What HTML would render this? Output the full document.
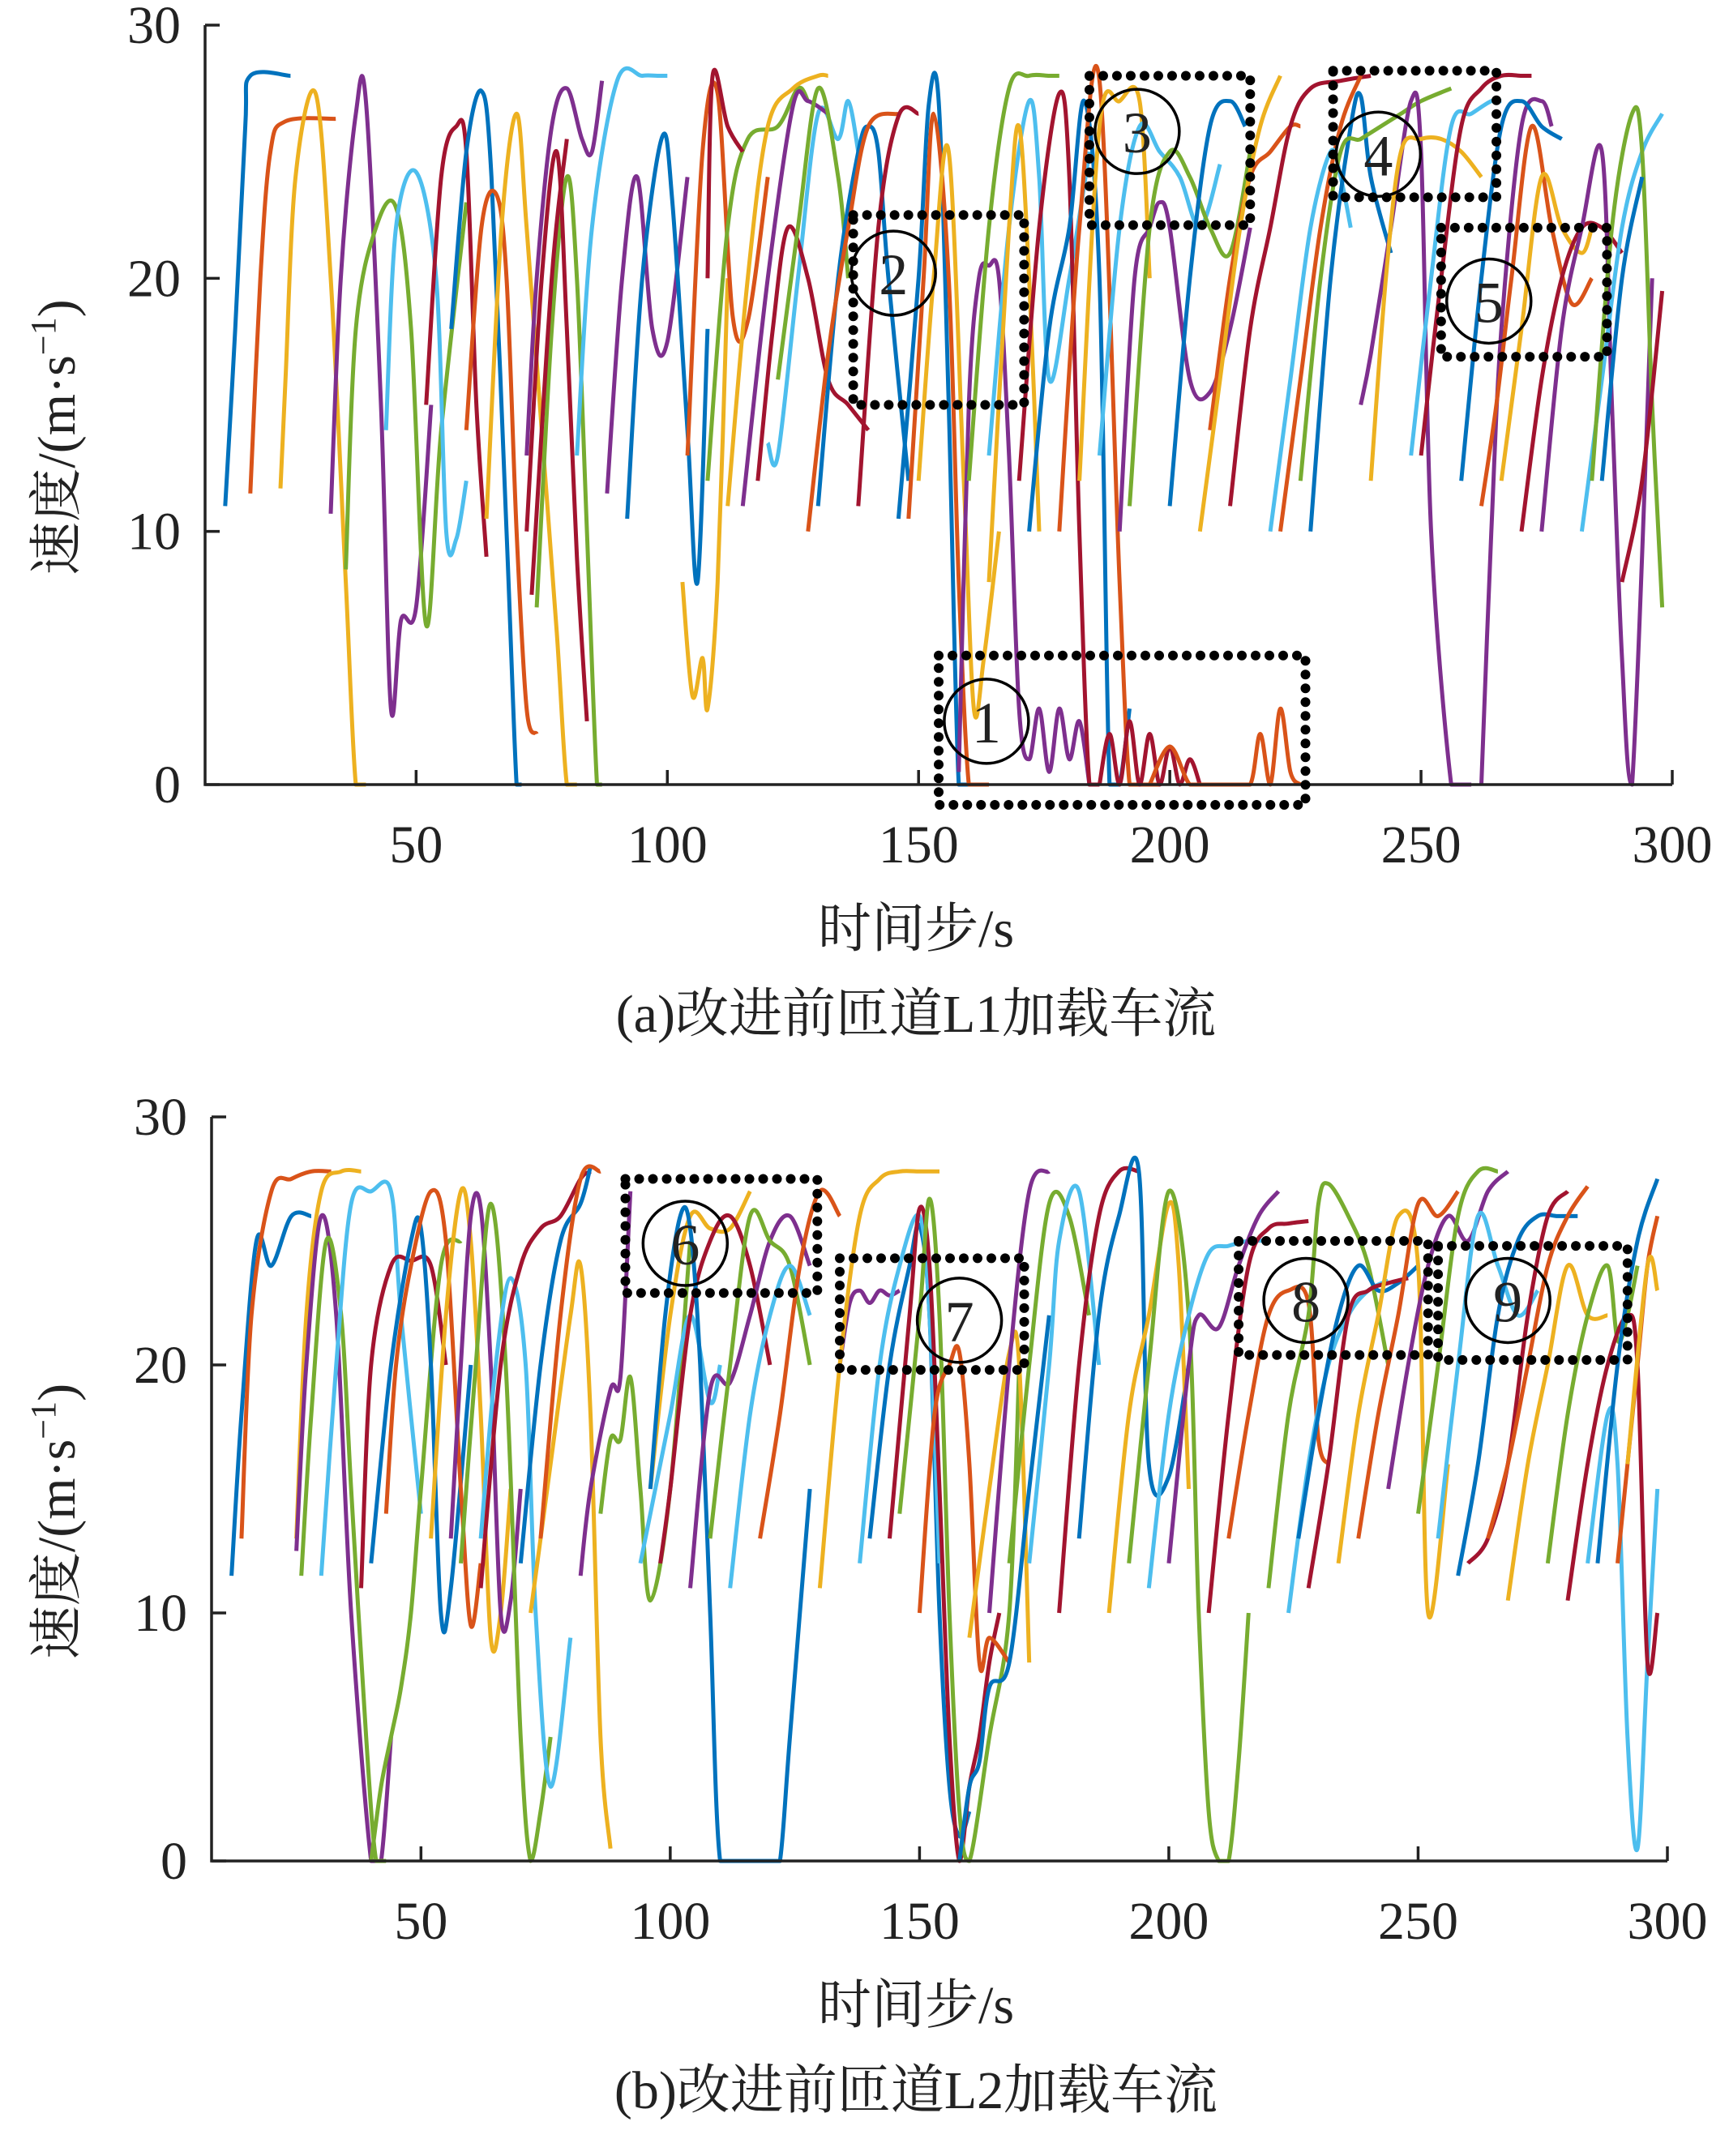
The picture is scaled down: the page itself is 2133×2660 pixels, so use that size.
<!DOCTYPE html>
<html><head><meta charset="utf-8"><style>
html,body{margin:0;padding:0;background:#fff}
svg{display:block}
text{font-family:"Liberation Serif","Noto Serif CJK SC",serif;fill:#222}
</style></head><body>
<svg id="chart" width="2133" height="2660" viewBox="0 0 2133 2660" xmlns="http://www.w3.org/2000/svg"></svg>
<script>
// ---- data ----
const xTicks = [50,100,150,200,250,300];
const yTicks = [0,10,20,30];
const colorMap = {b:'#0072BD',o:'#D95319',y:'#EDB120',p:'#7E2F8E',g:'#77AC30',c:'#4DBEEE',r:'#A2142F'};
const topColors = ['b','o','y','p','g','c','r','b','o','y','p','g','r','r','c','p','b','y','o','g','r','c','p','y','r','g','b','o','r','b','o','y','p','g','c','y','r','b','o','y','r','o','p','c','g','b','o','y','r','o','c','b','g','p','y','c','r','p','b','o','y','r','p','c','g','r','b'];
const topTimes = [
[12,14,16,17,25],[17,19,21,24,34],[23,24,26,30,33,36,38,40],[33,35,38,40,43,45,47,50,53],[36,38,42,46,49,52,55,60],[44,46,50,54,56,58,60],[52,55,58,60,62,64],[57,60,63,65,68,70,71],[60,63,66,68,70,72,74],[64,67,70,72,75,78,80,82],[72,74,77,80,83,85,87],[74,77,80,82,84,86,87],[72,75,78,80,82,84],[73,77,80],[82,85,90,95,98,100],[88,91,94,97,100,104],[92,95,99,101,104,106,108],[103,105,107,108,110,112],[104,107,110,113,116,120],[108,112,116,122,126,128],[108,109,112,115],[120,122,126,130,134,136,138],[115,120,125,128,132],[112,116,120,125,130,132],[118,121,124,128,132,136,140],[122,126,130,134,136],[130,134,138,140,142,144,148],[128,132,136,140,146],[138,142,146,150],[146,150,152,154,156,158,160,162],[148,151,153,156,158,160,162,164],[150,153,156,159,161,163,166],[158,160,162,164,166,168,170,172,174,176,178,180,182,184],[160,164,168,172,176,178],[164,168,172,174,176,180,184],[164,168,170,172,174],[170,174,178,180,182,184,186],[172,176,180,183,186,188,190,192],[178,182,186,190,192,194,196,198],[182,186,190,194,196],[186,188,190,192,194,196,198,200,202,204,206],[196,200,204,208,212,216,218,220,222,224,226],[190,193,196,198,200,204,208,212,216],[186,190,194,198,202,206,210],[192,196,200,204,208,212,216],[200,204,208,212,215],[208,212,216,220,224,226],[206,210,214,218,222],[212,216,220,224,228,234,240],[222,226,230,234,238],[220,224,228,232,234,236],[228,232,236,238,240,244],[226,230,234,238,242,246,250,256],[238,240,244,248,250,252,256,258,260],[240,243,246,250,254,258,262],[248,252,256,260,264,266],[250,254,258,262,266,270,272],[262,264,266,270,274,276],[258,262,266,270,274,278],[262,265,268,272,276,280,284],[266,270,274,278,282,284],[270,274,278,282,286,290],[274,278,282,286,288,290,292,296],[282,286,290,294,298],[284,288,292,294,296,298],[290,294,298],[286,290,294]
];
const topSpeeds = [
[11,18,26,28,28],[11.5,20,25,26.2,26.3],[11.7,16,24,27.3,20,8,0,0],[10.7,20,26.5,27,15,3,6.5,7,15],[8.5,18,22,22.8,18,6.3,14,23],[14,22,24.2,20,10,9.7,12],[15,24,26,25,15,9],[18,25,27.4,24,10,0,0],[14,22,23.3,20,10,3,2],[10.5,22,26.5,22,14,6,0,0],[13,20,26,27.5,25.5,25,27.8],[7,18,24,20,10,0,0],[10,20,25,18,9,2.5],[7.5,20,25.5],[13,22,27.8,28,28,28],[11.5,20,24,18,17.5,24],[10.5,20,25.6,23,14,8,18],[8,3.5,5,3,8,20],[13,25,27.3,18.5,18.3,24],[12,22,25.5,26,27.5,27],[20,28,26,25],[13.5,13,20,26.5,25.5,27,25],[11,20,26.8,27,26.5],[11,20,26,27.5,28,28],[12,18,22,20,16,15,14],[16,22,27.5,24,20],[11,20,25,26,25,20,12],[10,17,22,26,26.5],[11,22,26.4,26.5],[10.5,20,26.8,27,15,0,0,0],[10.5,20,26.5,20,8,0,0,0],[12,20,25,12,3,5,10],[0.5,15,20,20.5,20,13,3,1,3,0.5,3,1,2.5,0],[12,22,27.5,28,28,28],[13,22,27,24,16,20,25],[8,22,26,20,10],[12,22,27.3,24,10,0,0],[10,18,22,27,20,0,0,3],[10,22,27.8,8,0,0,0,0],[12,26,27,27,20],[0,2,0,2.5,0,2,0,1.5,0,1,0],[0,1.5,0,0,0,0,2,0,3,0.5,0],[10,20,22,23,22,16,15.5,18,22],[13,22,26,25,24,22,24.5],[11,22,25,24,22,21,25],[11,20,26,27,26],[14,20,24,25,26,26],[10,16,22,26,28],[11,18,22,26,27.5,27.8,28],[10,16,22,26,28],[10,16,22,25,24,22],[10,20,26,27.2,24,21],[12,20,25,25.5,26,26.5,27,27.5],[15,17,22,27,25,10,0,0,0],[12,20,25,25.5,25.5,25,24],[13,20,26,26.5,27,27],[13,20,26,27.5,28,28,28],[0,10,18,26,27,26],[12,20,26,27,26,25.5],[11,15,20,26,22,19,20],[12,18,24,22,21,22],[10,16,20,22,22,21],[10,18,22,25,15,5,0,20],[10,16,22,25,26.5],[12,22,26.5,25,15,7],[8,12,19.5],[12,20,24]
];
const botColors = ['b','o','y','p','g','c','r','g','b','o','y','p','g','c','r','b','y','o','p','g','c','y','r','b','p','g','c','o','p','y','b','c','r','g','o','y','b','p','g','c','r','b','y','g','c','p','r','o','g','c','b','r','y','o','p','g','c','b','r','o','y','g','c','r','b','o','y'];
const botTimes = [
[12,14,17,20,24,28],[14,16,20,24,28,32],[25,27,30,34,38],[25,27,30,33,36,40,42,44],[26,28,31,34,36,39,41,43],[30,33,36,40,44,46,50],[38,40,44,48,52,55],[40,42,44,46,48,50,54,58],[40,44,48,50,52,54,56,60],[43,45,48,52,55,58,60,62],[52,55,58,60,62,64,66,68],[56,58,60,62,64,66,68,70],[58,61,64,67,70,72,74,76],[62,65,68,71,73,76,80],[62,66,70,74,78,82,84],[70,74,78,82,84],[72,76,80,82,84,86,88],[74,78,82,86],[82,84,88,90,92],[86,88,90,92,94,96,100,104],[94,96,100,104,108,110],[96,100,104,108,112,116],[98,100,104,108,112,116,120],[96,99,102,104,106,108,110,114,118,120,122,124,128],[104,108,112,116,120,124,128],[108,112,116,120,124,128],[112,116,120,124,128],[118,122,126,130,134],[134,136,138,140,142,144,146],[130,134,138,142,146,150,154],[140,144,148,150,152,154,156,158,160],[138,142,146,150,152,154],[144,148,150,152,154,156,158,160,162,164,166],[146,150,152,154,156,158,160,164,168,170],[150,153,156,158,160,162,164,168],[160,164,168,170,172],[158,160,162,164,168,172,176],[164,168,172,176],[168,172,176,180,184],[172,176,178,182,186],[178,182,186,190,194],[182,186,190,194,196,200,204],[188,192,196,200,202,204],[192,196,200,204,206,208,210,212,214,216],[196,200,204,208,212,216,220],[200,204,206,210,214,218,222],[208,212,216,220,224,228],[212,216,220,224,228,230,232],[220,224,228,230,232,236,240,244],[224,228,232,236,240,244],[226,230,234,238,242,246,250],[228,232,236,240,244,248],[234,238,242,246,250,252,256],[238,242,246,250,254,258],[244,248,252,256,260,264,268],[250,254,258,262,266],[254,258,262,266,270,274],[258,262,266,270,274,278,282],[260,264,268,272,276,280],[264,268,272,276,280,284],[268,272,276,280,284,288],[276,280,284,288,290,292,294],[284,288,290,292,294,296,298],[280,284,288,292,294,296,298],[286,290,294,298],[290,294,296,298],[292,296,298]
];
const botSpeeds = [
[11.5,18,25,24,26,26],[13,22,27,27.5,27.8,27.8],[13,22,27,27.8,27.8],[12.5,20,26,22,10,0,0,5],[11.5,18,25,22,15,5,0,0],[11.5,20,26.5,27,27,22,14],[11,20,24,24.2,24,20],[0,3,5,7,10,15,24,25],[12,20,25,25.5,20,10,11,20],[14,20,24,27,25,15,9.5,12],[13,22,27,25,18,9,10,15],[13,20,26,26.3,20,10,10.5,15],[12,20,26.5,20,5,0,2,5],[13,20,23.5,20,10,3,9],[11,20,24,25.5,26,27.5,27.8],[12,20,25,26.5,28],[10,16,22,24,18,5,0.5],[13,22,27.5,27.8],[11.5,15,19,19.5,27],[14,17,17,19.5,15,10.5,15,25],[12,14,18,22,18.5,20],[15,22,26,25.5,25.5,27],[12,15,22,25,26,24,20],[15,22,26,25.5,20,10,0,0,0,0,0,5,15],[11,19,19.3,22,25,26,24],[13,20,26,25,24,20],[11,18,22,24,22],[13,18,24,27,26],[20,22.5,23,22.5,23,22.8,23],[11,20,26,27.5,27.8,27.8,27.8],[13,20,24,25.6,22,10,3,1,2],[12,20,24,26,22,12],[13,22,26.3,24,15,5,0,3,5,8,10],[14,22,26.7,22,10,2,0,5,10,20],[10,18,20,20.5,16,8,9,8],[9,15,20.5,20,8],[0,3,4,7,8,15,22],[10,20,27,27.8],[12,20,26.5,26,22],[12,20,25,27,20],[10,20,26,27.8,27.8],[13,22,26,27.8,16,15.5,20],[10,18,22,26.5,24,15],[12,20,27,22,10,2,0,0,4,10],[11,18,22,24.5,24.8,25,25],[12,20,22,21.5,24,26,27],[10,18,24,25.5,25.7,25.8],[13,18,22,23,22.5,17,16],[11,18,22,26.5,27.3,26,24,20],[10,16,20,22,23,23.4],[13,18,22,24,23,23.3,24],[11,16,22,23,23.3,23.5],[12,18,22,26,24,10,16],[13,18,22,26.5,26,27],[15,20,24,26,25,27,27.8],[14,20,26,27.8,27.8],[13,20,26,24,22,23],[11.5,16,22,25,26,26,26],[12,13,16,22,26,27],[13,16,20,24,26,27.2],[10.5,16,20,24,22,22],[12,18,22,24,21,22,24],[12,18,16,5,0.5,8,15],[10.5,16,20,22,20,8,10],[12,20,25,27.5],[12,20,24,26],[16,24,23]
];
// annotation boxes (data coords): [t0,t1,v0,v1,label,circle t, circle v]
const topBoxes = [[154,227,-0.8,5.1,'1',163.5,2.5],[137,171,15,22.5,'2',145,20.2],[184,216,22.1,28,'3',193.5,25.8],[232.5,265,23.2,28.2,'4',241.5,24.9],[254,287,16.9,22,'5',263.5,19.1]];
const botBoxes = [[91,129.5,22.9,27.5,'6',103,24.9],[134,171,19.8,24.3,'7',158,21.8],[214,252,20.4,25,'8',227.5,22.6],[254,292,20.2,24.8,'9',268,22.6]];

// ---- drawing ----
const NS='http://www.w3.org/2000/svg';
const svg=document.getElementById('chart');
function mk(tag,attrs,parent){const e=document.createElementNS(NS,tag);for(const k in attrs)e.setAttribute(k,attrs[k]);(parent||svg).appendChild(e);return e;}
function smooth(p,ymax){
  if(p.length<3) return 'M'+p.map(q=>q[0].toFixed(1)+','+q[1].toFixed(1)).join(' L');
  const cl=v=>Math.min(v,ymax);
  let d='M'+p[0][0].toFixed(1)+','+p[0][1].toFixed(1);
  for(let i=0;i<p.length-1;i++){
    const p0=p[Math.max(0,i-1)],p1=p[i],p2=p[i+1],p3=p[Math.min(p.length-1,i+2)];
    const c1=[p1[0]+(p2[0]-p0[0])/6,cl(p1[1]+(p2[1]-p0[1])/6)];
    const c2=[p2[0]-(p3[0]-p1[0])/6,cl(p2[1]-(p3[1]-p1[1])/6)];
    d+=` C${c1[0].toFixed(1)},${c1[1].toFixed(1)} ${c2[0].toFixed(1)},${c2[1].toFixed(1)} ${p2[0].toFixed(1)},${p2[1].toFixed(1)}`;
  }
  return d;
}

function panel(cfg){
  const X=t=>cfg.x0+(t-cfg.tmin)*(cfg.x1-cfg.x0)/(300-cfg.tmin);
  const Y=v=>cfg.y0-v*(cfg.y0-cfg.y30)/30;
  const g=mk('g',{});
  
  
  const lines=mk('g',{},g);
  
  
  cfg.times.forEach((ts,i)=>{
    const pts=ts.map((t,j)=>[X(t),Y(cfg.speeds[i][j])]);
    const pl=mk('path',{d:smooth(pts,cfg.y0),fill:'none',stroke:colorMap[cfg.colors[i]],'stroke-width':5,'stroke-linejoin':'round'},lines);
    
    
  });
  const ax=mk('path',{d:`M${cfg.x0},${cfg.y30} V${cfg.y0} H${cfg.x1}`,fill:'none',stroke:'#222','stroke-width':3.5},g);
  
  
  xTicks.forEach(t=>{
    mk('line',{x1:X(t),x2:X(t),y1:cfg.y0,y2:cfg.y0-18,stroke:'#222','stroke-width':3.5},g);
    const tx=mk('text',{x:X(t),y:cfg.y0+96,'text-anchor':'middle','font-size':66},g);
    tx.textContent=t;
    
    
  });
  yTicks.forEach(v=>{
    mk('line',{x1:cfg.x0,x2:cfg.x0+18,y1:Y(v),y2:Y(v),stroke:'#222','stroke-width':3.5},g);
    const tx=mk('text',{x:cfg.x0-30,y:Y(v)+22,'text-anchor':'end','font-size':66},g);
    tx.textContent=v;
    
    
  });
  const xl=mk('text',{x:1130,y:cfg.y0+200,'text-anchor':'middle','font-size':66},g);
  xl.textContent='时间步/s';
  
  
  const cap=mk('text',{x:1130,y:cfg.y0+305,'text-anchor':'middle','font-size':66},g);
  cap.textContent=cfg.caption;
  
  
  const cy=(cfg.y0+cfg.y30)/2+40;
  const yl=mk('text',{x:0,y:0,'text-anchor':'middle','font-size':66,transform:`translate(92,${cy}) rotate(-90)`},g);
  
  
  yl.appendChild(document.createTextNode('速度/(m·s'));
  const sup=mk('tspan',{'baseline-shift':'super','font-size':44},yl);sup.textContent='−1';
  const cl=mk('tspan',{},yl);cl.textContent=')';
  cfg.boxes.forEach(b=>{
    const bx=mk('g',{},g);
    
    
    mk('rect',{x:X(b[0]),y:Y(b[3]),width:X(b[1])-X(b[0]),height:Y(b[2])-Y(b[3]),fill:'none',stroke:'#000','stroke-width':12,'stroke-dasharray':'0 17','stroke-linecap':'round'},bx);
    mk('circle',{cx:X(b[5]),cy:Y(b[6]),r:52,fill:'none',stroke:'#000','stroke-width':3.5},bx);
    const t=mk('text',{x:X(b[5]),y:Y(b[6])+26,'text-anchor':'middle','font-size':72,fill:'#000'},bx);
    t.textContent=b[4];
  });
}
panel({name:'panel-a',x0:253,x1:2063,tmin:8,y0:968,y30:31,times:topTimes,speeds:topSpeeds,colors:topColors,boxes:topBoxes,caption:'(a)改进前匝道L1加载车流'});
panel({name:'panel-b',x0:261,x1:2057,tmin:8,y0:2296,y30:1378,times:botTimes,speeds:botSpeeds,colors:botColors,boxes:botBoxes,caption:'(b)改进前匝道L2加载车流'});
</script>
</body></html>
